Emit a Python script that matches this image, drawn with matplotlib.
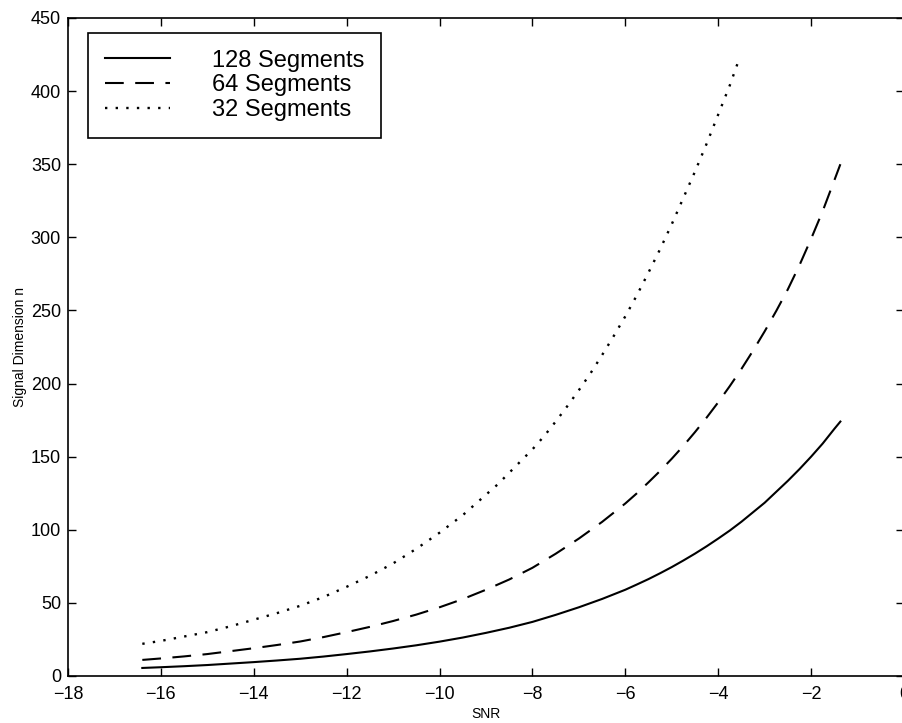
import matplotlib.pyplot as plt

plt.rcParams['font.family'] = ['Liberation Sans', 'DejaVu Sans']

# values
snr_128 = [-16.4, -16, -15.5, -15, -14.5, -14, -13.5, -13, -12.5, -12, -11.5, -11,
           -10.5, -10, -9.5, -9, -8.5, -8, -7.5, -7, -6.5, -6, -5.75, -5.5, -5.25,
           -5, -4.75, -4.5, -4.25, -4, -3.75, -3.5, -3.25, -3, -2.75, -2.5, -2.25,
           -2, -1.75, -1.5, -1.37]
n_128 = [5.5, 6, 6.7, 7.5, 8.5, 9.5, 10.6, 11.8, 13.3, 15, 16.8, 18.8,
         21, 23.5, 26.3, 29.5, 33, 37, 41.8, 47, 52.7, 59, 62.6, 66.3, 70.3,
         74.5, 79, 83.7, 88.7, 94, 99.5, 105.5, 112, 118.5, 126, 133.5, 141.5,
         150, 159, 169, 174]

snr_64 = [-16.4, -16, -15.5, -15, -14.5, -14, -13.5, -13, -12.5, -12, -11.5, -11,
          -10.5, -10, -9.5, -9, -8.5, -8, -7.5, -7, -6.5, -6, -5.75, -5.5, -5.25,
          -5, -4.75, -4.5, -4.25, -4, -3.75, -3.5, -3.25, -3, -2.75, -2.5, -2.25,
          -2, -1.75, -1.5, -1.37]
n_64 = [11, 12, 13.4, 15, 17, 19, 21.2, 23.6, 26.6, 30, 33.6, 37.6,
        42, 47, 52.6, 59, 66, 74, 83.6, 94, 105.4, 118, 125, 132.5, 140.3,
        148.6, 157.4, 166.8, 176.7, 187.2, 198.3, 210, 222.5, 235.7, 249.7, 264.5, 281,
        299, 318, 339, 350]

snr_32 = [-16.4, -16, -15.5, -15, -14.5, -14, -13.5, -13, -12.5, -12, -11.5, -11,
          -10.5, -10, -9.75, -9.5, -9.25, -9, -8.75, -8.5, -8.25, -8, -7.75, -7.5,
          -7.25, -7, -6.75, -6.5, -6.25, -6, -5.75, -5.5, -5.25, -5, -4.75, -4.5,
          -4.25, -4, -3.75, -3.56]
n_32 = [22, 24, 27, 30, 34, 38.5, 43, 48, 54, 61, 68.5, 77,
        87, 98, 104, 110, 117, 124, 131, 139, 147, 155, 164, 174,
        184.5, 195.5, 207, 219.5, 232.5, 246, 260.5, 276, 292, 309, 327, 345,
        364, 384, 404, 421]

labels = ['128 Segments', '64 Segments', '32 Segments']

fig = plt.figure(figsize=(9.02, 7.23), dpi=100)
ax = fig.add_axes([68 / 902, 1 - 676 / 723, 836 / 902, 658 / 723])

ax.plot(snr_128, n_128, color='black', linestyle='-', linewidth=1.5, label=labels[0])
ax.plot(snr_64, n_64, color='black', linestyle=(0, (9, 5.5)), linewidth=1.5, label=labels[1])
ax.plot(snr_32, n_32, color='black', linestyle=(0, (1, 3.5)), linewidth=1.7, label=labels[2])

ax.set_xlim(-18, 0)
ax.set_ylim(0, 450)
ax.set_xticks(range(-18, 1, 2))
ax.set_yticks(range(0, 451, 50))
ax.tick_params(direction='in', length=6, width=1, top=True, right=True, labelsize=13)
ax.tick_params(axis='y', pad=5)
ax.tick_params(axis='x', pad=7)
for s in ax.spines.values():
    s.set_linewidth(1.2)

ax.set_xlabel('SNR', fontsize=10, labelpad=3)
ax.set_ylabel('Signal Dimension n', fontsize=10, labelpad=3)

leg = ax.legend(loc='upper left', bbox_to_anchor=(0.024, 0.977), borderaxespad=0,
                fontsize=17, handlelength=2.75, handletextpad=1.8, labelspacing=0.12,
                fancybox=False, framealpha=1, edgecolor='black', borderpad=0.7)
leg.get_frame().set_linewidth(1.2)

fig.savefig('out.png', dpi=100)
